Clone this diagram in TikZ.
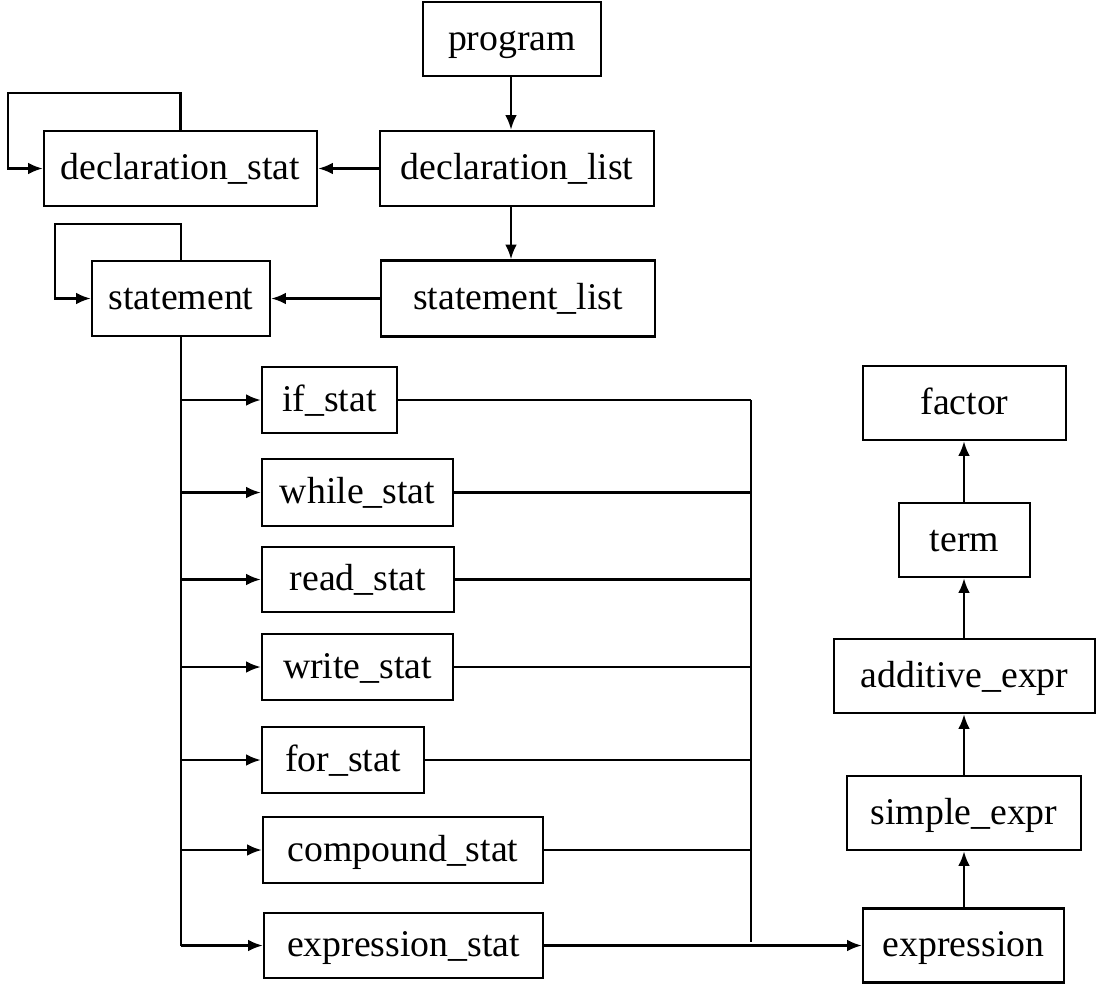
\documentclass[tikz,border=0pt]{standalone}
\usepackage{fontspec}
\setmainfont{Liberation Serif}
\usepackage{tikz}
\usetikzlibrary{arrows.meta}

\begin{document}
\begin{tikzpicture}[x=0.02cm, y=-0.02cm, line width=1.2pt, >={Latex[length=2.9mm,width=2.3mm]},
	box/.style={draw, line width=1.5pt, inner sep=0pt, text height=0.52cm, text depth=0.08cm,
		font=\fontsize{21.5}{26}\selectfont}]
	\useasboundingbox (0,0) rectangle (1096,992);
	% top chain
	\node [box, minimum width=3.56cm, minimum height=1.48cm] (prog) at (512,39) {program};
	\node [box, minimum width=5.48cm, minimum height=1.5cm] (dlist) at (517,168.5) {declaration\_list};
	\node [box, minimum width=5.46cm, minimum height=1.5cm] (dstat) at (180.5,168.5) {declaration\_stat};
	\node [box, minimum width=5.48cm, minimum height=1.52cm] (slist) at (518,298.5) {statement\_list};
	\node [box, minimum width=3.56cm, minimum height=1.5cm] (stmt) at (181,298.5) {statement};
	% statements
	\node [box, minimum width=2.7cm, minimum height=1.32cm] (ifs) at (329.5,400) {if\_stat};
	\node [box, minimum width=3.82cm, minimum height=1.34cm] (whiles) at (357.5,492.5) {while\_stat};
	\node [box, minimum width=3.84cm, minimum height=1.3cm] (reads) at (358,579.5) {read\_stat};
	\node [box, minimum width=3.82cm, minimum height=1.32cm] (writes) at (357.5,667) {write\_stat};
	\node [box, minimum width=3.24cm, minimum height=1.32cm] (fors) at (343,760) {for\_stat};
	\node [box, minimum width=5.6cm, minimum height=1.32cm] (comps) at (403,850) {compound\_stat};
	\node [box, minimum width=5.58cm, minimum height=1.3cm] (exprs) at (403.5,945.5) {expression\_stat};
	% expressions
	\node [box, minimum width=4.02cm, minimum height=1.48cm] (expr) at (963.5,945.5) {expression};
	\node [box, minimum width=4.68cm, minimum height=1.48cm] (sexpr) at (964,813) {simple\_expr};
	\node [box, minimum width=5.22cm, minimum height=1.48cm] (aexpr) at (964.5,676) {additive\_expr};
	\node [box, minimum width=2.62cm, minimum height=1.48cm] (term) at (964.5,540) {term};
	\node [box, minimum width=4.06cm, minimum height=1.48cm] (fact) at (964.5,403) {factor};

	\coordinate (mid) at (511,0);
	\coordinate (loopd) at (8,93);
	\coordinate (loops) at (55,224);
	\coordinate (bus) at (751,0);
	\coordinate (busend) at (751,942);
	\coordinate (col) at (964,0);

	\draw [->] (mid |- prog.south) -- (mid |- dlist.north);
	\draw [->] (mid |- dlist.south) -- (mid |- slist.north);
	\draw [->] (dlist.west) -- (dstat.east);
	\draw [->] (slist.west) -- (stmt.east);
	\draw [->] (dstat.north) |- (loopd) |- (dstat.west);
	\draw [->] (stmt.north) |- (loops) |- (stmt.west);

	\draw (stmt.south) -- (stmt.south |- exprs.west);
	\foreach \n in {ifs,whiles,reads,writes,fors,comps,exprs}
		\draw [->] (stmt.south |- \n.west) -- (\n.west);
	\foreach \n in {ifs,whiles,reads,writes,fors,comps}
		\draw (\n.east) -- (bus |- \n.east);
	\draw (bus |- ifs.east) -- (busend);
	\draw [->] (exprs.east) -- (expr.west);

	\draw [->] (col |- expr.north) -- (col |- sexpr.south);
	\draw [->] (col |- sexpr.north) -- (col |- aexpr.south);
	\draw [->] (col |- aexpr.north) -- (col |- term.south);
	\draw [->] (col |- term.north) -- (col |- fact.south);
\end{tikzpicture}
\end{document}
